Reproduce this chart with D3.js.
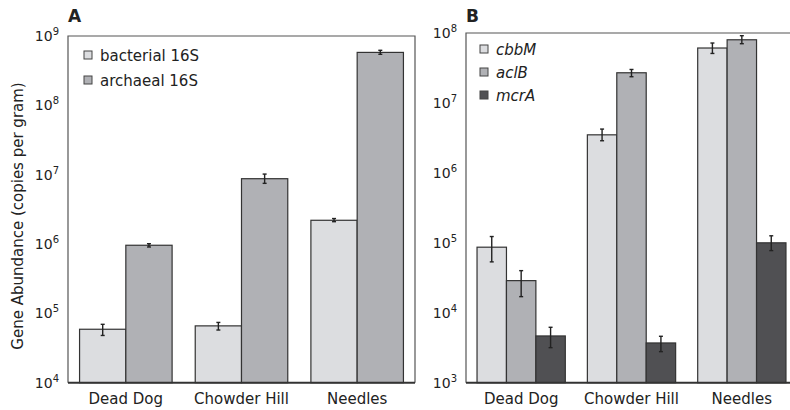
<!DOCTYPE html>
<html>
<head>
<meta charset="utf-8">
<script src="https://cdn.jsdelivr.net/npm/d3@7"></script>
<style>
  body { margin: 0; background: #fff; }
  svg { display: block; font-family: "DejaVu Sans", sans-serif; }
</style>
</head>
<body>
<svg id="chart" width="790" height="410"></svg>
<script>
// sites on the x axis
const sites = ["Dead Dog", "Chowder Hill", "Needles"];

// panel A: 16S rRNA genes
const seriesA = ["bacterial 16S", "archaeal 16S"];
const bacterial16S = [5.9e4, 6.6e4, 2.2e6];
const bacterial16SLo = [4.8e4, 5.75e4, 2.1e6];
const bacterial16SHi = [6.95e4, 7.4e4, 2.33e6];
const archaeal16S = [9.6e5, 8.75e6, 5.8e8];
const archaeal16SLo = [9.06e5, 7.5e6, 5.45e8];
const archaeal16SHi = [1.01e6, 1.02e7, 6.22e8];
const ticksA = [1e4, 1e5, 1e6, 1e7, 1e8, 1e9];

// panel B: functional genes
const seriesB = ["cbbM", "aclB", "mcrA"];
const cbbM = [8.66e4, 3.5e6, 6.1e7];
const cbbMLo = [5.34e4, 2.88e6, 5.1e7];
const cbbMHi = [1.23e5, 4.23e6, 7.19e7];
const aclB = [2.88e4, 2.7e7, 8.0e7];
const aclBLo = [1.7e4, 2.37e7, 7.03e7];
const aclBHi = [4.0e4, 3.01e7, 9.15e7];
const mcrA = [4.66e3, 3.7e3, 1.0e5];
const mcrALo = [3.17e3, 2.78e3, 7.74e4];
const mcrAHi = [6.2e3, 4.61e3, 1.26e5];
const ticksB = [1e3, 1e4, 1e5, 1e6, 1e7, 1e8];

const fills = ["#dcdde0", "#b0b1b5", "#505053"];
const svg = d3.select("#chart");

function drawPanel(p) {
  const g = svg.append("g");
  const y = d3.scaleLog().domain(p.domain).range([p.bottom, p.top]);
  const x0 = d3.scaleBand().domain(sites).range([p.left, p.right])
    .paddingInner(0.2).paddingOuter(0.1);
  const x1 = d3.scaleBand().domain(p.series).range([0, x0.bandwidth()]);

  // frame
  g.append("path")
    .attr("d", `M${p.left},${p.bottom}V${p.top}H${p.right}V${p.bottom}`)
    .attr("fill", "none").attr("stroke", "#555").attr("stroke-width", 1.2);

  // bars
  p.series.forEach((s, si) => {
    g.append("g").selectAll("rect")
      .data(sites.map((site, i) => ({ site, v: p.values[si][i] })))
      .enter().append("rect")
      .attr("x", d => x0(d.site) + x1(s))
      .attr("y", d => y(d.v))
      .attr("width", x1.bandwidth())
      .attr("height", d => p.bottom - y(d.v))
      .attr("fill", fills[si])
      .attr("stroke", "#333")
      .attr("stroke-width", 1.2);

    const eb = g.append("g").attr("stroke", "#222").attr("stroke-width", 1.4);
    sites.forEach((site, i) => {
      const cx = x0(site) + x1(s) + x1.bandwidth() / 2;
      const ylo = y(p.lo[si][i]), yhi = y(p.hi[si][i]);
      eb.append("line").attr("x1", cx).attr("x2", cx).attr("y1", ylo).attr("y2", yhi);
      eb.append("line").attr("x1", cx - 2).attr("x2", cx + 2).attr("y1", ylo).attr("y2", ylo);
      eb.append("line").attr("x1", cx - 2).attr("x2", cx + 2).attr("y1", yhi).attr("y2", yhi);
    });
  });

  // bottom axis line
  g.append("line")
    .attr("x1", p.left).attr("x2", p.right)
    .attr("y1", p.bottom).attr("y2", p.bottom)
    .attr("stroke", "#333").attr("stroke-width", 2);

  // y tick labels 10^n
  p.ticks.forEach(t => {
    const txt = g.append("text")
      .attr("x", p.left - 9).attr("y", y(t) + 5)
      .attr("text-anchor", "end")
      .attr("fill", "#222").attr("font-size", 14);
    txt.append("tspan").text("10");
    txt.append("tspan").attr("dy", -6).attr("font-size", 10)
      .text(Math.round(Math.log10(t)));
  });

  // x labels
  g.selectAll(".xl").data(sites).enter().append("text")
    .attr("x", d => x0(d) + x0.bandwidth() / 2)
    .attr("y", 404)
    .attr("text-anchor", "middle")
    .attr("fill", "#222").attr("font-size", 15)
    .text(d => d);

  // panel letter
  g.append("text").attr("x", p.left).attr("y", 22)
    .attr("font-weight", "bold").attr("font-size", 17).attr("fill", "#222")
    .text(p.letter);

  // legend
  p.series.forEach((s, si) => {
    const ly = p.legendY + si * p.legendStep;
    g.append("rect").attr("x", p.legendX).attr("y", ly - 4)
      .attr("width", 8).attr("height", 8)
      .attr("fill", fills[si]).attr("stroke", "#444").attr("stroke-width", 1);
    g.append("text").attr("x", p.legendX + 16).attr("y", ly + 5.5)
      .attr("font-size", 15).attr("fill", "#222")
      .attr("font-style", p.italic ? "italic" : "normal")
      .text(s);
  });
}

drawPanel({
  letter: "A", left: 68, right: 415, top: 36, bottom: 382.7,
  domain: [1e4, 1e9], ticks: ticksA, series: seriesA,
  values: [bacterial16S, archaeal16S],
  lo: [bacterial16SLo, archaeal16SLo], hi: [bacterial16SHi, archaeal16SHi],
  legendX: 84, legendY: 55, legendStep: 25, italic: false
});

drawPanel({
  letter: "B", left: 466, right: 797, top: 33, bottom: 382.7,
  domain: [1e3, 1e8], ticks: ticksB, series: seriesB,
  values: [cbbM, aclB, mcrA],
  lo: [cbbMLo, aclBLo, mcrALo], hi: [cbbMHi, aclBHi, mcrAHi],
  legendX: 480, legendY: 49, legendStep: 23, italic: true
});

// shared y axis title
svg.append("text")
  .attr("transform", "translate(23,216) rotate(-90)")
  .attr("text-anchor", "middle")
  .attr("font-size", 15).attr("fill", "#222")
  .text("Gene Abundance (copies per gram)");
</script>
</body>
</html>
